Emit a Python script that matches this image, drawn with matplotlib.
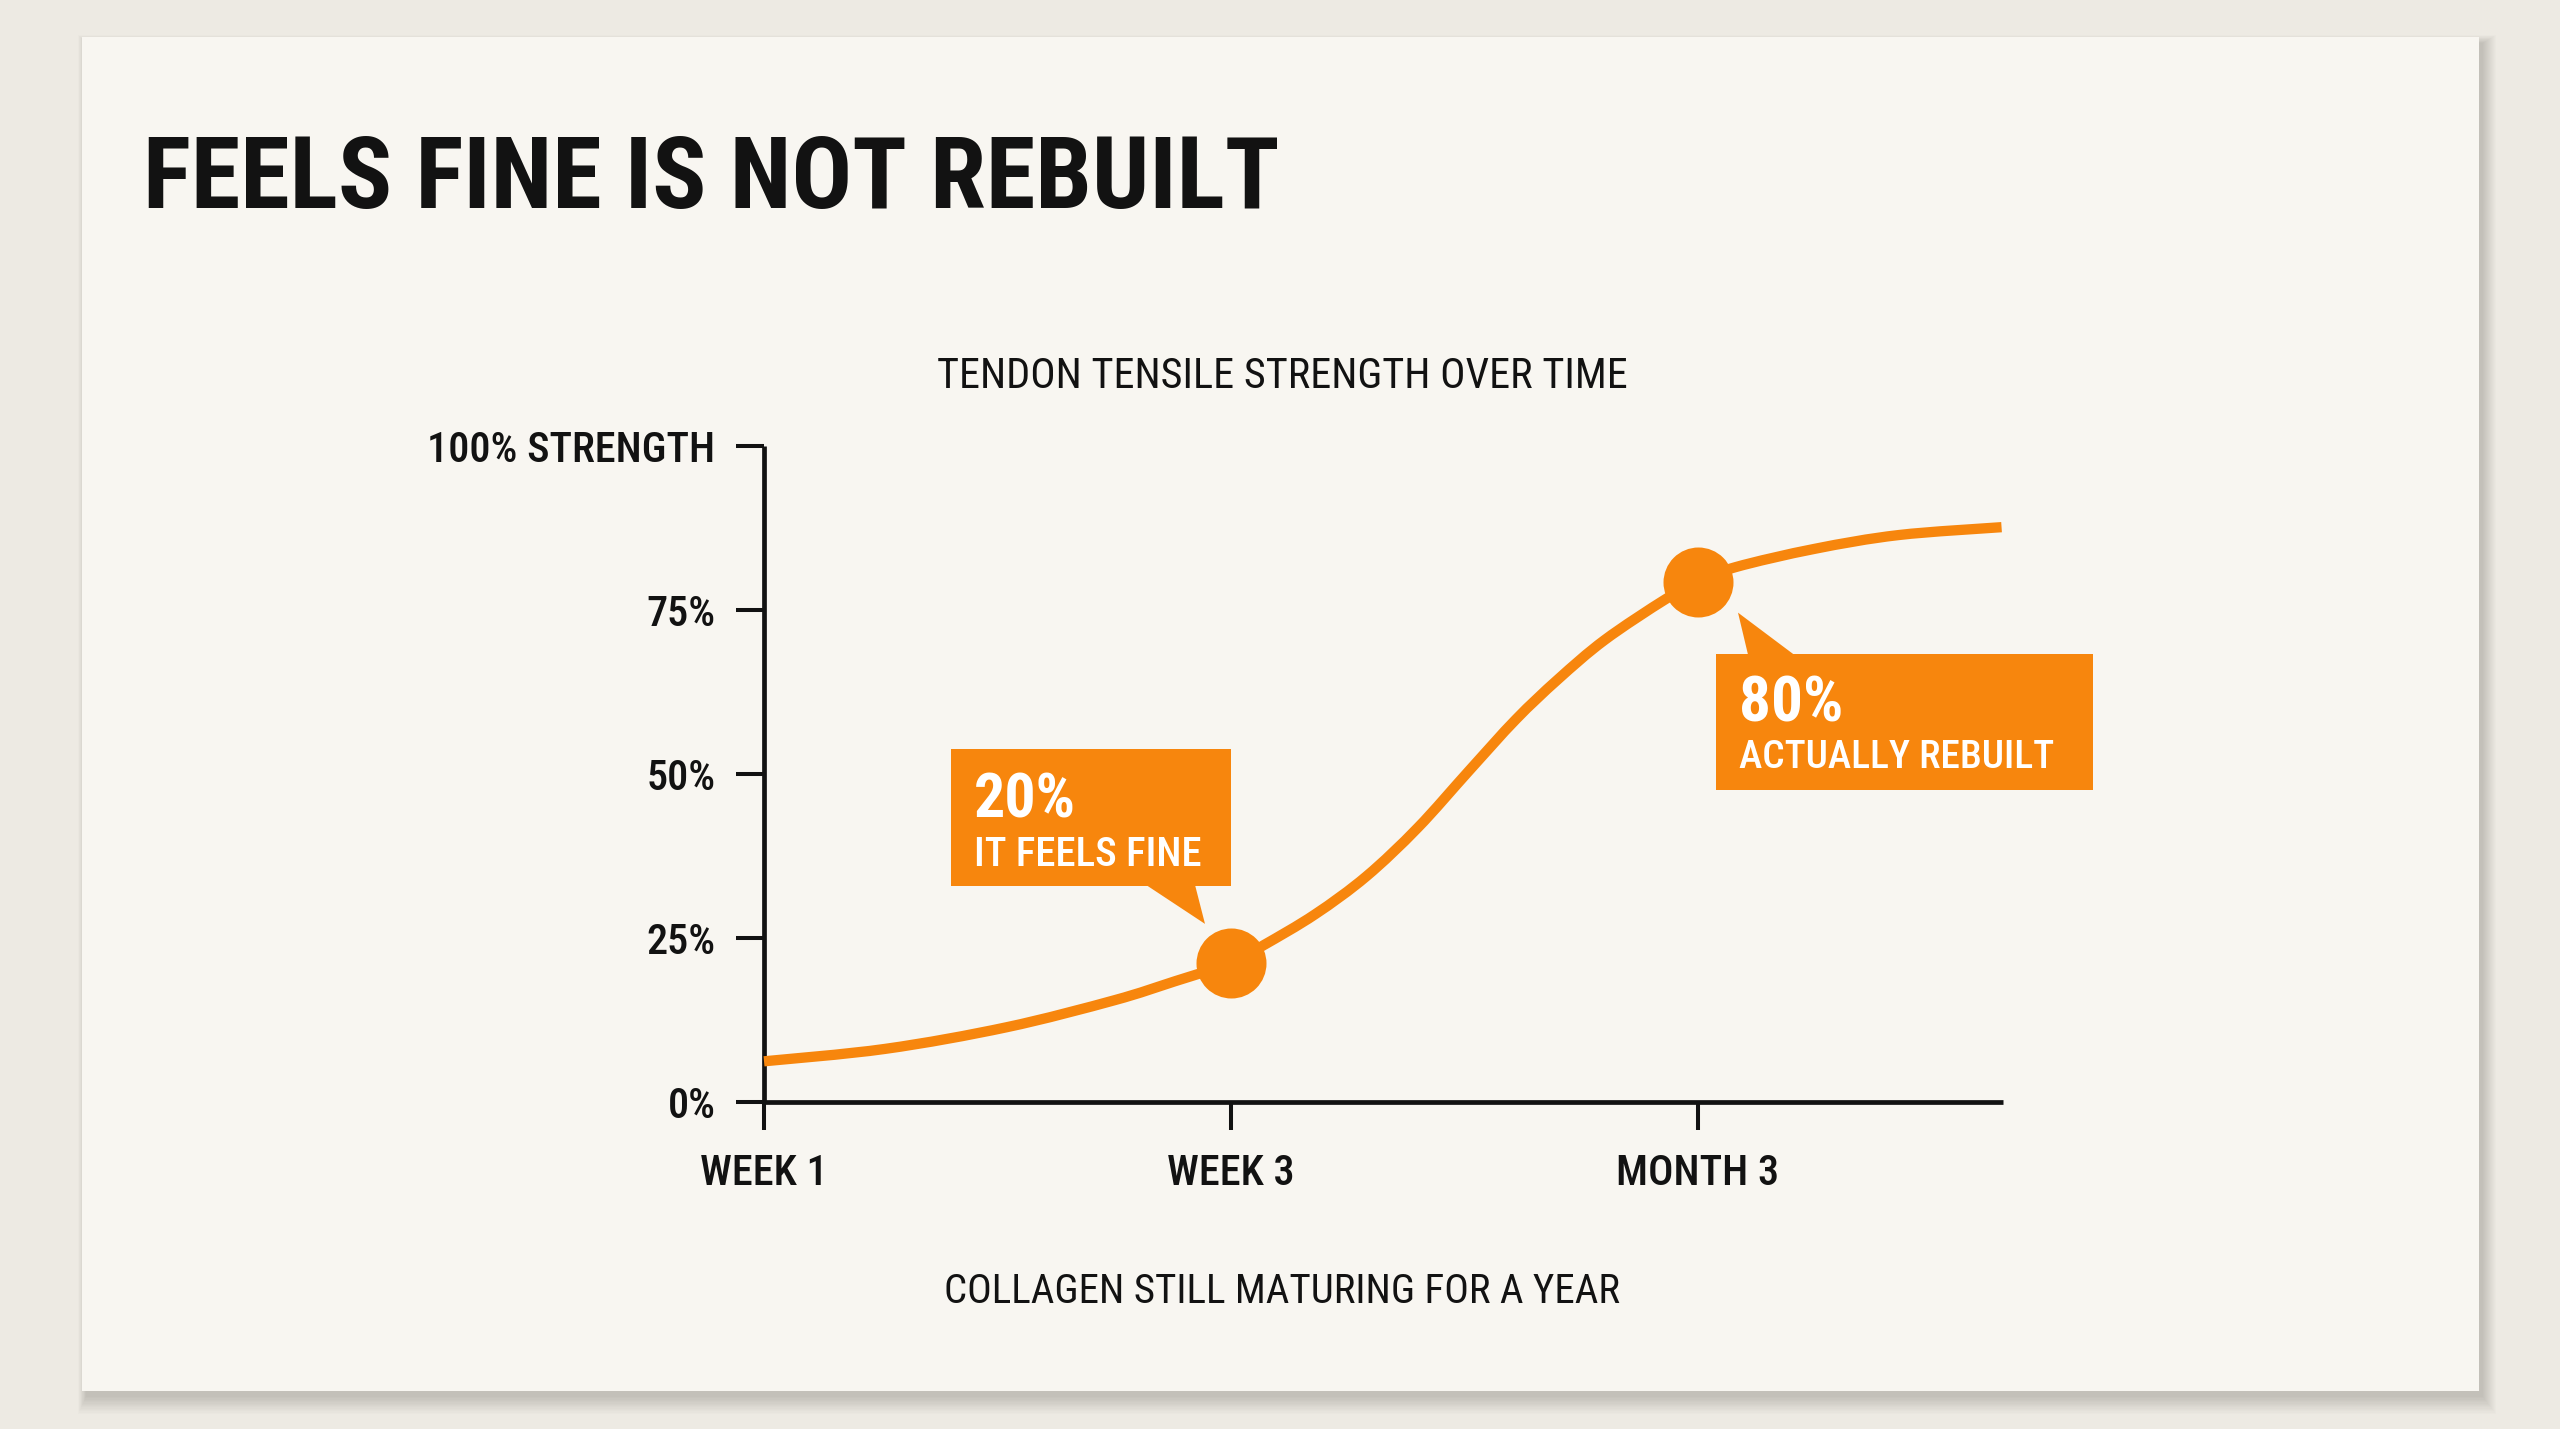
import matplotlib
matplotlib.use("Agg")
import matplotlib.pyplot as plt
import matplotlib.transforms as mtransforms
from matplotlib import font_manager as fm
from matplotlib.font_manager import FontProperties
from matplotlib.textpath import TextPath
from matplotlib.patches import Rectangle, Polygon, PathPatch
from matplotlib.path import Path

# ---------------- data ----------------
time_pos = [0.0, 0.26, 0.52, 0.75, 0.88, 1.0, 1.07, 1.18, 1.29, 1.40,
            1.51, 1.61, 1.70, 1.80, 1.93, 2.0, 2.08, 2.25, 2.43, 2.65]
strength = [6.2, 8.1, 11.4, 15.5, 18.4, 21.2, 23.9, 28.6, 34.4, 41.8,
            50.5, 58.3, 64.4, 70.4, 76.6, 79.3, 81.5, 84.3, 86.4, 87.6]
xtick_pos = [0, 1, 2]
xtick_labels = ["WEEK 1", "WEEK 3", "MONTH 3"]
ytick_vals = [0, 25, 50, 75, 100]
ytick_labels = ["0%", "25%", "50%", "75%", "100% STRENGTH"]
marker_pos = [1.0, 2.0]
marker_vals = [21.2, 79.3]
callout_big = ["20%", "80%"]
callout_small = ["IT FEELS FINE", "ACTUALLY REBUILT"]
title = "FEELS FINE IS NOT REBUILT"
chart_title = "TENDON TENSILE STRENGTH OVER TIME"
footnote = "COLLAGEN STILL MATURING FOR A YEAR"

# ---------------- style ----------------
DPI = 100
W, H = 2560, 1429
ORANGE = "#F7860D"
INK = "#121212"
OUTER = "#EDEAE3"
CARD = "#F8F6F1"

names = {f.name for f in fm.fontManager.ttflist}
prefs = ["Roboto Condensed", "Archivo Narrow", "Liberation Sans Narrow",
         "Open Sans Condensed", "Roboto", "Liberation Sans"]
FONT = next((p for p in prefs if p in names), "DejaVu Sans")


def fp(weight):
    return FontProperties(family=[FONT, "DejaVu Sans"], weight=weight)


def fit(s, prop, cap_px, width_px):
    h = TextPath((0, 0), "H", size=100, prop=prop).get_extents().height
    w = TextPath((0, 0), s, size=100, prop=prop).get_extents().width
    px = min(100 * cap_px / h, 100 * width_px / w * 1.02)
    return px * 72 / DPI


def smooth_path(xs, ys):
    """Smooth curve (Catmull-Rom as cubic Bezier) through the data points."""
    pts = list(zip(xs, ys))
    verts, codes = [pts[0]], [Path.MOVETO]
    n = len(pts)
    for i in range(n - 1):
        p0 = pts[i - 1] if i > 0 else pts[i]
        p1, p2 = pts[i], pts[i + 1]
        p3 = pts[i + 2] if i + 2 < n else p2
        c1 = (p1[0] + (p2[0] - p0[0]) / 6.0, p1[1] + (p2[1] - p0[1]) / 6.0)
        c2 = (p2[0] - (p3[0] - p1[0]) / 6.0, p2[1] - (p3[1] - p1[1]) / 6.0)
        verts += [c1, c2, p2]
        codes += [Path.CURVE4] * 3
    return Path(verts, codes)


fig = plt.figure(figsize=(W / DPI, H / DPI), dpi=DPI)
fig.patch.set_facecolor(OUTER)

# background / card in pixel coordinates (y down)
bg = fig.add_axes([0, 0, 1, 1])
bg.set_xlim(0, W)
bg.set_ylim(H, 0)
bg.axis("off")
cx0, cy0, cx1, cy1 = 82, 37, 2479, 1391
for k in range(14):
    bg.add_patch(Rectangle((cx0 + 4 - k * 0.6, cy0 + 6 - k * 0.6),
                           (cx1 - cx0) + k * 1.6, (cy1 - cy0) + k * 1.9,
                           facecolor="black", edgecolor="none", alpha=0.012, zorder=0))
bg.add_patch(Rectangle((cx0, cy0), cx1 - cx0, cy1 - cy0, facecolor=CARD,
                       edgecolor="none", zorder=1))

p_title = fp("bold")
bg.text(143, 208, title, fontproperties=p_title,
        fontsize=fit(title, p_title, 71.6, 1159), color=INK, ha="left", va="baseline", zorder=5)
p_sub = fp("normal")
bg.text(1282, 388, chart_title, fontproperties=p_sub,
        fontsize=fit(chart_title, p_sub, 30, 692), color=INK, ha="center", va="baseline", zorder=5)
bg.text(1282, 1303, footnote, fontproperties=p_sub,
        fontsize=fit(footnote, p_sub, 30, 660), color=INK, ha="center", va="baseline", zorder=5)

# ---------------- chart ----------------
ax_l, ax_r, ax_t, ax_b = 764, 2003, 445.8, 1102
ax = fig.add_axes([ax_l / W, 1 - ax_b / H, (ax_r - ax_l) / W, (ax_b - ax_t) / H])
ax.patch.set_visible(False)
ax.set_xlim(0, (ax_r - ax_l) / 467.0)
ax.set_ylim(0, 100)
for s in ("top", "right"):
    ax.spines[s].set_visible(False)
for s in ("left", "bottom"):
    ax.spines[s].set_linewidth(3.4)
    ax.spines[s].set_color(INK)
    ax.spines[s].set_capstyle("butt")

p_tick = fp("medium")
tick_fs = fit("100% STRENGTH", p_tick, 30, 288)
ax.set_xticks(xtick_pos)
ax.set_xticklabels(xtick_labels)
ax.set_yticks(ytick_vals)
ax.set_yticklabels(ytick_labels)
ax.tick_params(axis="both", direction="out", length=20, width=2.9, color=INK,
               labelcolor=INK, labelsize=tick_fs)
ax.tick_params(axis="x", pad=16.5)
ax.tick_params(axis="y", pad=15)
for lbl in ax.get_xticklabels() + ax.get_yticklabels():
    lbl.set_fontproperties(p_tick)
    lbl.set_fontsize(tick_fs)

ax.add_patch(PathPatch(smooth_path(time_pos, strength), facecolor="none", edgecolor=ORANGE,
                       lw=7.4, capstyle="butt", joinstyle="round", clip_on=False, zorder=3))
ax.plot(marker_pos, marker_vals, "o", ms=50.4, color=ORANGE, mew=0, zorder=4, clip_on=False)


def anchor(x, y):
    return (mtransforms.Affine2D().scale(1.0 / DPI) + fig.dpi_scale_trans
            + mtransforms.ScaledTranslation(x, y, ax.transData))


# callout geometry in pixel offsets from marker (y up)
callouts = [
    dict(box=(-280, 77, 0, 214), tri=[(-85, 78), (-36, 78), (-26, 39)],
         tx=-257.5, big_y=145, small_y=97, big=(44, 116), small=(29, 235)),
    dict(box=(18, -208.7, 395, -72), tri=[(50, -73), (96, -73), (40, -31)],
         tx=41, big_y=-139.7, small_y=-186, big=(45, 116), small=(28, 331)),
]
p_big = fp("bold")
p_small = fp("medium")
for i, c in enumerate(callouts):
    tr = anchor(marker_pos[i], marker_vals[i])
    x0, y0, x1, y1 = c["box"]
    ax.add_patch(Rectangle((x0, y0), x1 - x0, y1 - y0, transform=tr, facecolor=ORANGE,
                           edgecolor="none", clip_on=False, zorder=5))
    ax.add_patch(Polygon(c["tri"], closed=True, transform=tr, facecolor=ORANGE,
                         edgecolor="none", clip_on=False, zorder=5))
    ax.text(c["tx"], c["big_y"], callout_big[i], transform=tr, fontproperties=p_big,
            fontsize=fit(callout_big[i], p_big, *c["big"]), color="white",
            ha="left", va="baseline", zorder=6)
    ax.text(c["tx"], c["small_y"], callout_small[i], transform=tr, fontproperties=p_small,
            fontsize=fit(callout_small[i], p_small, *c["small"]), color="white",
            ha="left", va="baseline", zorder=6)

fig.savefig("out.png", dpi=DPI, facecolor=OUTER)
